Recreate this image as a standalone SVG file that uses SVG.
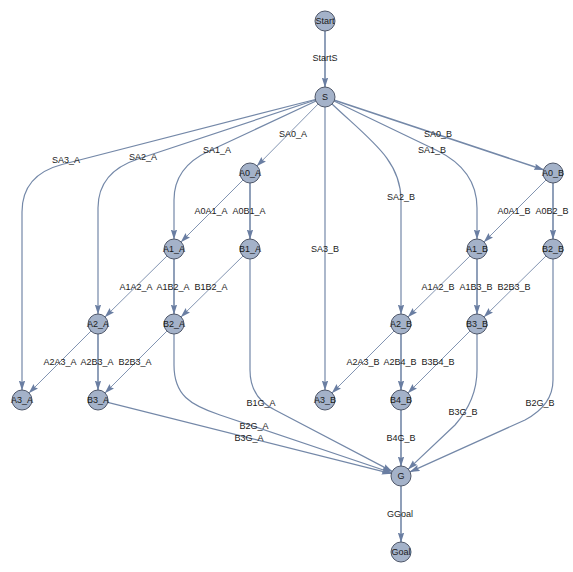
<svg xmlns="http://www.w3.org/2000/svg" width="573" height="572" viewBox="0 0 573 572">
<style>
.e{fill:none;stroke:#7488a8;stroke-width:1.2;marker-end:url(#ah)}
.t{stroke-width:0.9}
.k{stroke-width:1.6}
.n circle{fill:#a4b2c9;stroke:#4f5769;stroke-width:1}
text{font-family:"Liberation Sans",Arial,sans-serif;font-size:9px;fill:#1a1a1a;text-anchor:middle;dominant-baseline:central}
</style>
<defs>
<marker id="ah" markerUnits="userSpaceOnUse" markerWidth="10" markerHeight="8" refX="9.5" refY="3.2" orient="auto">
<path d="M0,0 L10,3.2 L0,6.4 L1.5,3.2 z" fill="#6a7ea2"/>
</marker>
</defs>
<rect width="573" height="572" fill="#ffffff"/>
<g id="connectors">
<path class="e k" d="M325,31 L325,87"/>
<path class="e" d="M325,107 L325,390"/>
<path class="e t" d="M318,104.1 L257,165.9"/>
<path class="e k" d="M334.5,100.2 L543.5,169.8"/>
<path class="e" d="M315.3,99.5 L62,164.5 Q22,175 22,212 L22,390"/>
<path class="e" d="M315.5,100 L138,159 Q98,172 98,208 L98,314"/>
<path class="e" d="M316,101 L208,151.5 Q174,167.5 174,200 L174,239"/>
<path class="e" d="M334,101 L437,150.5 Q477,170 477,208 L477,239"/>
<path class="e" d="M332,104 C370,140 401,160 401,200 L401,314"/>
<path class="e t" d="M242.9,180.1 L181.1,241.9"/>
<path class="e k" d="M250,183 L250,239"/>
<path class="e t" d="M545.9,180.1 L484.1,241.9"/>
<path class="e k" d="M553,183 L553,239"/>
<path class="e t" d="M166.9,256.1 L105.1,316.9"/>
<path class="e k" d="M174,259 L174,314"/>
<path class="e t" d="M242.9,256.1 L181.1,316.9"/>
<path class="e t" d="M469.9,256.1 L408.1,316.9"/>
<path class="e k" d="M477,259 L477,314"/>
<path class="e t" d="M545.9,256.1 L484.1,316.9"/>
<path class="e t" d="M90.9,331.1 L29.1,392.9"/>
<path class="e k" d="M98,334 L98,390"/>
<path class="e t" d="M166.9,331.1 L105.1,392.9"/>
<path class="e t" d="M393.9,331.1 L332.1,392.9"/>
<path class="e k" d="M401,334 L401,390"/>
<path class="e t" d="M469.9,331.1 L408.1,392.9"/>
<path class="e" d="M250,259 L250,370 Q250,398 275,410 L392.1,471.4"/>
<path class="e" d="M174,334 L174,365 C174,395 190,405 220,415 L391.5,472.8"/>
<path class="e" d="M107.7,402.4 L391.3,473.6"/>
<path class="e" d="M477,334 L477,370 Q477,400 455,425 L408.3,469.1"/>
<path class="e" d="M553,259 L553,380 Q553,405 525,420 L410.1,471.9"/>
<path class="e k" d="M401,410 L401,466"/>
<path class="e k" d="M401,486 L401,542"/>
</g>
<g id="edge-labels">
<text x="325" y="58">StartS</text>
<text x="66" y="160">SA3_A</text>
<text x="143" y="157">SA2_A</text>
<text x="217" y="150">SA1_A</text>
<text x="293" y="134">SA0_A</text>
<text x="438" y="134">SA0_B</text>
<text x="432" y="150">SA1_B</text>
<text x="401" y="197">SA2_B</text>
<text x="325" y="249">SA3_B</text>
<text x="211" y="211">A0A1_A</text>
<text x="249" y="211">A0B1_A</text>
<text x="514" y="211">A0A1_B</text>
<text x="552" y="211">A0B2_B</text>
<text x="136" y="287">A1A2_A</text>
<text x="173" y="287">A1B2_A</text>
<text x="211" y="287">B1B2_A</text>
<text x="438" y="287">A1A2_B</text>
<text x="476" y="287">A1B3_B</text>
<text x="514" y="287">B2B3_B</text>
<text x="60" y="362">A2A3_A</text>
<text x="97" y="362">A2B3_A</text>
<text x="135" y="362">B2B3_A</text>
<text x="363" y="362">A2A3_B</text>
<text x="400" y="362">A2B4_B</text>
<text x="438" y="362">B3B4_B</text>
<text x="261" y="403">B1G_A</text>
<text x="254" y="426">B2G_A</text>
<text x="249" y="438">B3G_A</text>
<text x="463" y="412">B3G_B</text>
<text x="540" y="403">B2G_B</text>
<text x="401" y="438">B4G_B</text>
<text x="400" y="514">GGoal</text>
</g>
<g id="Start" class="n"><circle cx="325" cy="21" r="10"/><text x="325" y="21">Start</text></g>
<g id="S" class="n"><circle cx="325" cy="97" r="10"/><text x="325" y="97">S</text></g>
<g id="A0_A" class="n"><circle cx="250" cy="173" r="10"/><text x="250" y="173">A0_A</text></g>
<g id="A0_B" class="n"><circle cx="553" cy="173" r="10"/><text x="553" y="173">A0_B</text></g>
<g id="A1_A" class="n"><circle cx="174" cy="249" r="10"/><text x="174" y="249">A1_A</text></g>
<g id="B1_A" class="n"><circle cx="250" cy="249" r="10"/><text x="250" y="249">B1_A</text></g>
<g id="A1_B" class="n"><circle cx="477" cy="249" r="10"/><text x="477" y="249">A1_B</text></g>
<g id="B2_B" class="n"><circle cx="553" cy="249" r="10"/><text x="553" y="249">B2_B</text></g>
<g id="A2_A" class="n"><circle cx="98" cy="324" r="10"/><text x="98" y="324">A2_A</text></g>
<g id="B2_A" class="n"><circle cx="174" cy="324" r="10"/><text x="174" y="324">B2_A</text></g>
<g id="A2_B" class="n"><circle cx="401" cy="324" r="10"/><text x="401" y="324">A2_B</text></g>
<g id="B3_B" class="n"><circle cx="477" cy="324" r="10"/><text x="477" y="324">B3_B</text></g>
<g id="A3_A" class="n"><circle cx="22" cy="400" r="10"/><text x="22" y="400">A3_A</text></g>
<g id="B3_A" class="n"><circle cx="98" cy="400" r="10"/><text x="98" y="400">B3_A</text></g>
<g id="A3_B" class="n"><circle cx="325" cy="400" r="10"/><text x="325" y="400">A3_B</text></g>
<g id="B4_B" class="n"><circle cx="401" cy="400" r="10"/><text x="401" y="400">B4_B</text></g>
<g id="G" class="n"><circle cx="401" cy="476" r="10"/><text x="401" y="476">G</text></g>
<g id="Goal" class="n"><circle cx="401" cy="552" r="10"/><text x="401" y="552">Goal</text></g>
</svg>
